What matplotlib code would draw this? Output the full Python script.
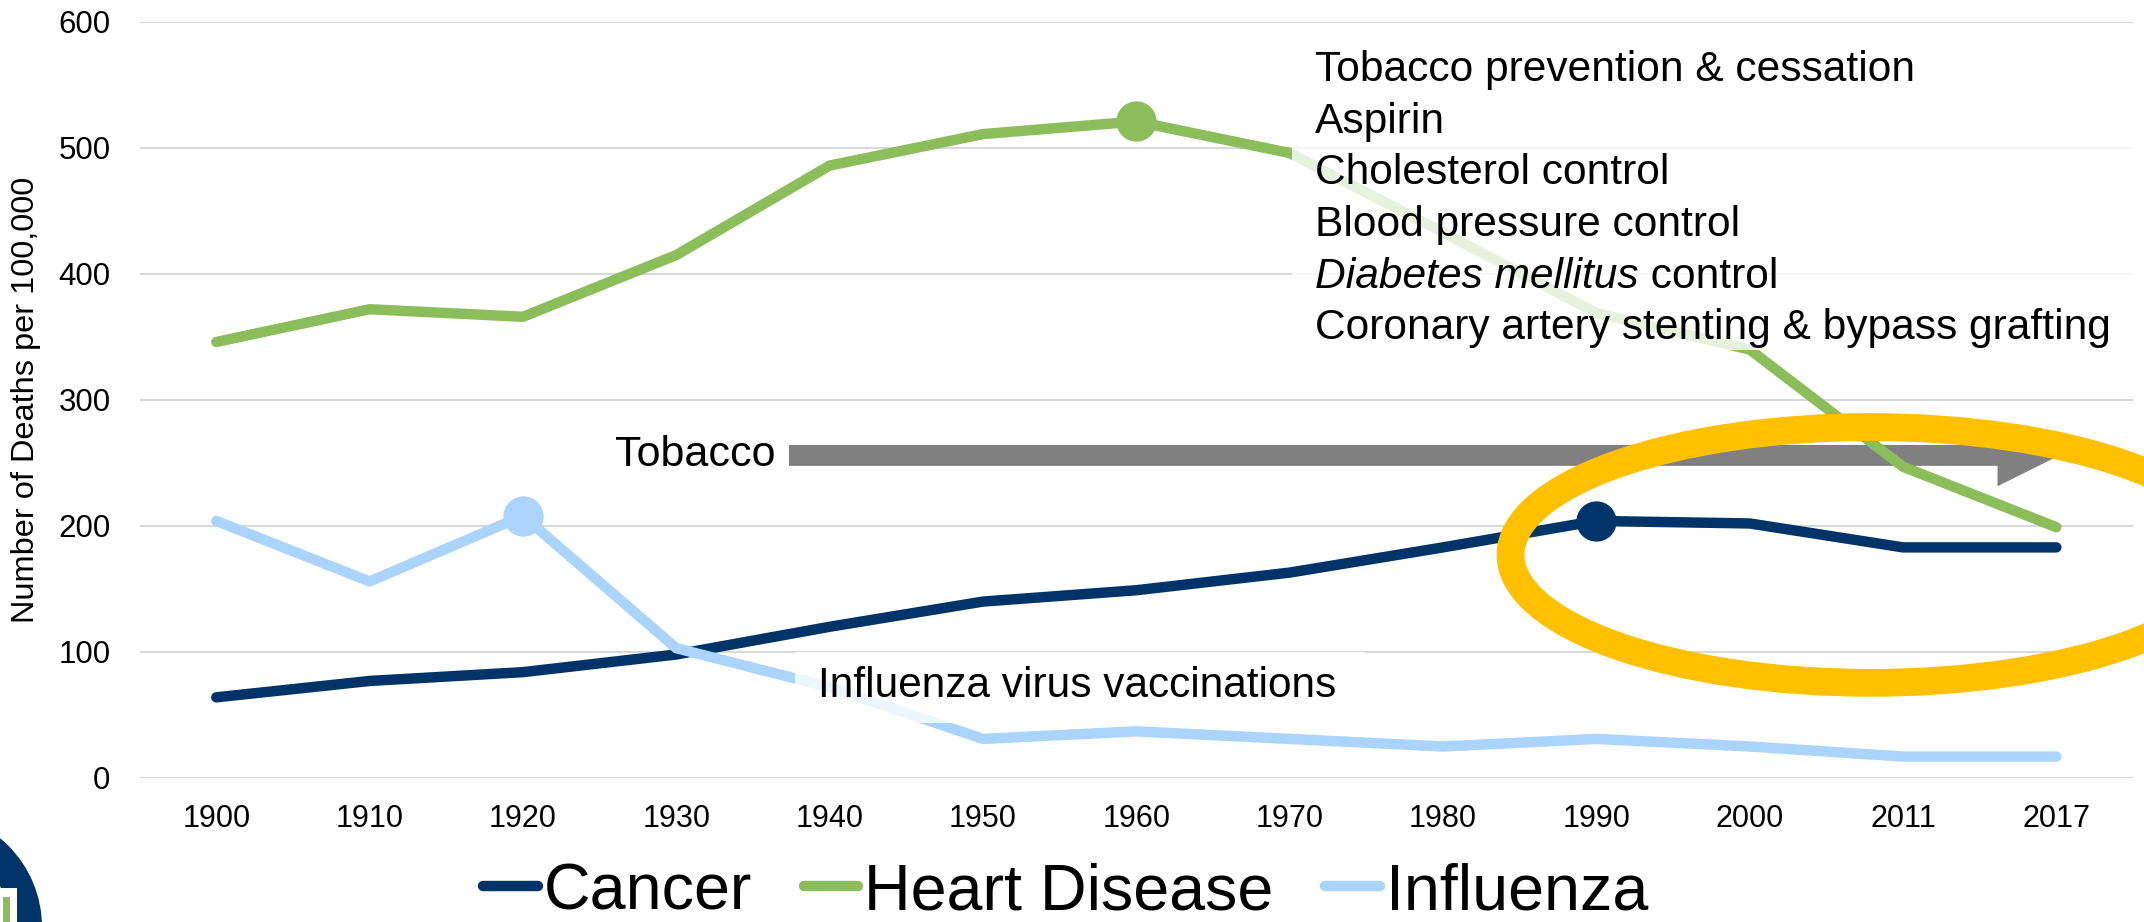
import matplotlib
matplotlib.use("Agg")
import matplotlib.pyplot as plt
from matplotlib.patches import Ellipse, FancyArrow, Rectangle, Circle
from matplotlib.transforms import IdentityTransform

plt.rcParams['font.family'] = 'Liberation Sans'

# Data
years = ['1900', '1910', '1920', '1930', '1940', '1950', '1960',
         '1970', '1980', '1990', '2000', '2011', '2017']
cancer = [64, 77, 84, 98, 120, 140, 149, 163, 183, 204, 202, 183, 183]
heart = [346, 372, 366, 415, 486, 511, 521, 496, 433, 369, 340, 247, 199]
influenza = [204, 156, 208, 103, 72, 31, 37, 31, 25, 31, 25, 17, 17]

# highlighted points (index into years)
cancer_peak = 9
heart_peak = 6
flu_peak = 2

heart_notes = ['Tobacco prevention & cessation', 'Aspirin', 'Cholesterol control',
               'Blood pressure control', None,
               'Coronary artery stenting & bypass grafting']

c_cancer = '#003468'
c_heart = '#8BBE5B'
c_flu = '#AAD4FC'

W, H = 2144, 922
fig = plt.figure(figsize=(W / 100, H / 100), dpi=100)
ax = fig.add_axes([0.0651, 0.1562, 0.9298, 0.82])

x = list(range(len(years)))
lw = 7.5
ms = 28
for vals, col, lab, pk in [(cancer, c_cancer, 'Cancer', cancer_peak),
                           (heart, c_heart, 'Heart Disease', heart_peak),
                           (influenza, c_flu, 'Influenza', flu_peak)]:
    ax.plot(x, vals, color=col, lw=lw, solid_capstyle='round', solid_joinstyle='round',
            marker='o', markersize=ms, markevery=[pk], label=lab, zorder=3)

ax.set_xlim(-0.5, len(years) - 0.5)
ax.set_ylim(0, 600)
ax.set_yticks(range(0, 601, 100))
ax.set_xticks(x)
ax.set_xticklabels(years)
ax.tick_params(axis='x', length=0, pad=19, labelsize=22)
ax.tick_params(axis='y', length=0, pad=21, labelsize=22.5)
for s in ax.spines.values():
    s.set_visible(False)
ax.grid(axis='y', color='#D9D9D9', lw=1.5)
ax.set_axisbelow(True)
ax.set_ylabel('Number of Deaths per 100,000', fontsize=23.4)
ax.yaxis.set_label_coords(-0.0494, 0.5)

# tobacco arrow
ax.add_patch(FancyArrow(3.735, 256, 12.02 - 3.735, 0, width=16.6, head_width=49,
                        head_length=0.404, length_includes_head=True,
                        color='#808080', lw=0, zorder=2))
ax.text(3.645, 256, 'Tobacco', fontsize=31, ha='right', va='center')

# semi-transparent label boxes (pixel coords)
def box(x0, y0, x1, y1):
    ax.add_patch(Rectangle((x0, H - y1), x1 - x0, y1 - y0, transform=IdentityTransform(),
                           facecolor='white', alpha=0.8, lw=0, zorder=4, clip_on=False))

box(1292, 40, 2144, 350)
box(795, 652, 1365, 723)

fs = 30.6
ty = 70
for note in heart_notes:
    if note is None:
        t = ax.text(1315 / W, 1 - ty / H, 'Diabetes mellitus', fontsize=fs,
                    style='italic', va='center', transform=fig.transFigure, zorder=6)
        ax.annotate(' control', xy=(1, 0), xycoords=t, fontsize=fs,
                    va='bottom', ha='left', annotation_clip=False, zorder=6)
    else:
        ax.text(1315 / W, 1 - ty / H, note, fontsize=fs, va='center',
                transform=fig.transFigure, zorder=6)
    ty += 51.7

ax.text(818 / W, 1 - 686 / H, 'Influenza virus vaccinations', fontsize=30.5,
        va='center', transform=fig.transFigure, zorder=6)

# highlight ellipse
ax.add_patch(Ellipse((10.79, 177), 4.70, 203, fill=False, edgecolor='#FFC000',
                     lw=20, clip_on=False, zorder=5))

# logo fragment bottom-left
logo = [Circle((-73, H - 927), 115, color='#003468'),
        Circle((-73, H - 927), 84, color='#8BBE5B'),
        Rectangle((-2, 0), 19, H - 888, color='white'),
        Rectangle((3, 0), 7, H - 897, color='#8BBE5B')]
for p in logo:
    p.set_transform(IdentityTransform())
    p.set_linewidth(0)
    fig.patches.append(p)
    p.set_figure(fig)

leg = fig.legend(loc='lower center', bbox_to_anchor=(0.497, 0.0), ncol=3, frameon=False,
                 fontsize=46.5, handlelength=0.85, handletextpad=0.09, columnspacing=0.8,
                 borderpad=0, borderaxespad=0)
for h in leg.get_lines():
    h.set_marker('')
    h.set_linewidth(lw)

fig.savefig('out.png', dpi=100)
